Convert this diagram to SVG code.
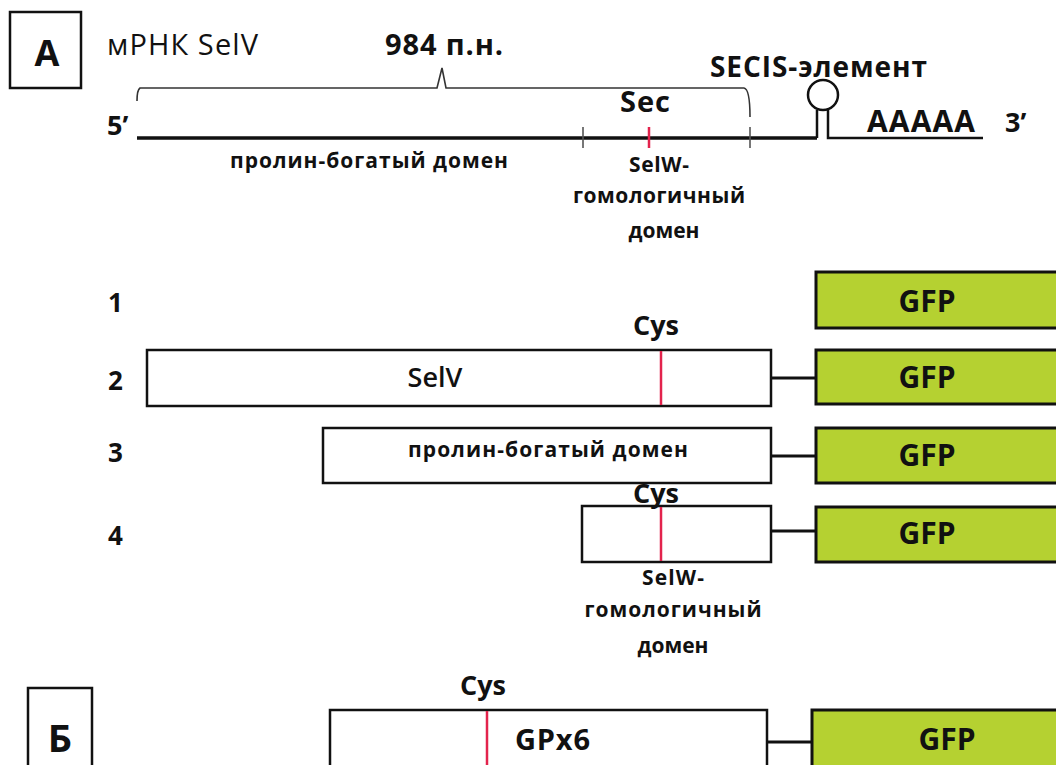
<svg xmlns="http://www.w3.org/2000/svg" width="1056" height="765" viewBox="0 0 1056 765">
<style>
  .t{font-family:"Open Sans","Liberation Sans",sans-serif;fill:#111;}
  .b{font-weight:bold;}
  .s{font-size:21px;font-weight:bold;}
  .box{fill:#fff;stroke:#111;stroke-width:2.5;}
  .gfp{fill:#b5d131;stroke:#111;stroke-width:3;}
  .red{stroke:#e3234c;stroke-width:2.5;}
  .conn{stroke:#111;stroke-width:3;fill:none;}
  .lbl{fill:none;stroke:#111;stroke-width:2.5;}
  .g{font-size:30px;font-weight:bold;}
  .c{font-size:27px;font-weight:bold;}
  .n{font-size:26px;font-weight:bold;}
</style>
<rect width="1056" height="765" fill="#fff"/>

<g id="labelA">
  <rect class="lbl" x="10" y="12" width="71" height="76"/>
  <text class="t b" x="47" y="66" font-size="36" text-anchor="middle">А</text>
</g>

<g id="mrna">
  <text class="t" x="107" y="55" font-size="29" textLength="151">мРНК SelV</text>
  <text class="t b" x="385" y="55" font-size="29" textLength="118">984 п.н.</text>
  <path d="M137,101 Q137,90 140,88 L437,88 L442,68 L446,88 L744,88 Q750,89 750,117" fill="none" stroke="#333" stroke-width="1.6"/>
  <text class="t b" x="107" y="135" font-size="27">5’</text>
  <line x1="137" y1="138" x2="817" y2="138" stroke="#111" stroke-width="3.5"/>
  <line x1="583" y1="127" x2="583" y2="148" stroke="#555" stroke-width="1.6"/>
  <line x1="750" y1="127" x2="750" y2="148" stroke="#555" stroke-width="1.6"/>
  <line x1="649" y1="127" x2="649" y2="148" class="red" stroke-width="2"/>
  <text class="t b" x="620" y="112" font-size="29" textLength="50">Sec</text>
  <text class="t b" x="710" y="77" font-size="28" textLength="217">SECIS-элемент</text>
  <path d="M817,138 L817,110 M828,110 L828,138 L983,138" fill="none" stroke="#111" stroke-width="2.5"/>
  <circle cx="823" cy="95" r="15" fill="#fff" stroke="#111" stroke-width="2.5"/>
  <text class="t b" x="867" y="132" font-size="30" textLength="108">AAAAA</text>
  <text class="t b" x="1005" y="132" font-size="27">3’</text>
  <text class="t s" x="230" y="168" textLength="278">пролин-богатый домен</text>
  <text class="t s" x="659" y="172" text-anchor="middle" textLength="60">SelW-</text>
  <text class="t s" x="659" y="203" text-anchor="middle" textLength="172">гомологичный</text>
  <text class="t s" x="664" y="238" text-anchor="middle">домен</text>
</g>

<g id="row1">
  <text class="t n" x="108" y="312">1</text>
  <rect class="gfp" x="816" y="272" width="260" height="56"/>
  <text class="t g" x="927" y="312" text-anchor="middle">GFP</text>
</g>

<g id="row2">
  <text class="t n" x="108" y="390">2</text>
  <text class="t c" x="656" y="335" text-anchor="middle">Cys</text>
  <rect class="box" x="147" y="350" width="624" height="56"/>
  <line class="red" x1="661" y1="351" x2="661" y2="405"/>
  <text class="t" x="435" y="387" font-size="27" font-weight="600" text-anchor="middle">SelV</text>
  <rect class="gfp" x="816" y="350" width="260" height="54"/>
  <text class="t g" x="927" y="388" text-anchor="middle">GFP</text>
</g>

<g id="row3">
  <text class="t n" x="108" y="462">3</text>
  <rect class="box" x="323" y="428" width="448" height="55"/>
  <text class="t s" x="408" y="457" textLength="280">пролин-богатый домен</text>
  <rect class="gfp" x="816" y="428" width="260" height="55"/>
  <text class="t g" x="927" y="466" text-anchor="middle">GFP</text>
</g>

<g id="row4">
  <text class="t n" x="108" y="545">4</text>
  <rect class="box" x="582" y="506" width="189" height="56"/>
  <line class="red" x1="661" y1="507" x2="661" y2="561"/>
  <text class="t c" x="656" y="503" text-anchor="middle">Cys</text>
  <rect class="gfp" x="816" y="507" width="260" height="55"/>
  <text class="t g" x="927" y="544" text-anchor="middle">GFP</text>
  <text class="t s" x="673" y="585" text-anchor="middle" textLength="62">SelW-</text>
  <text class="t s" x="673" y="617" text-anchor="middle" textLength="177">гомологичный</text>
  <text class="t s" x="673" y="653" text-anchor="middle">домен</text>
</g>

<g id="labelB">
  <rect class="lbl" x="28" y="688" width="64" height="90"/>
  <text class="t b" x="60" y="752" font-size="38" text-anchor="middle">Б</text>
</g>

<g id="rowB">
  <text class="t c" x="483" y="695" text-anchor="middle">Cys</text>
  <rect class="box" x="330" y="710" width="437" height="70"/>
  <line class="red" x1="487" y1="711" x2="487" y2="765"/>
  <text class="t b" x="515" y="750" font-size="29" textLength="75">GPx6</text>
  <rect class="gfp" x="812" y="710" width="260" height="70"/>
  <text class="t g" x="947" y="750" text-anchor="middle">GFP</text>
</g>

<g id="connectors">
  <line class="conn" x1="771" y1="378" x2="816" y2="378"/>
  <line class="conn" x1="771" y1="456" x2="816" y2="456"/>
  <line class="conn" x1="771" y1="531" x2="816" y2="531"/>
  <line class="conn" x1="767" y1="742" x2="812" y2="742"/>
</g>
</svg>
